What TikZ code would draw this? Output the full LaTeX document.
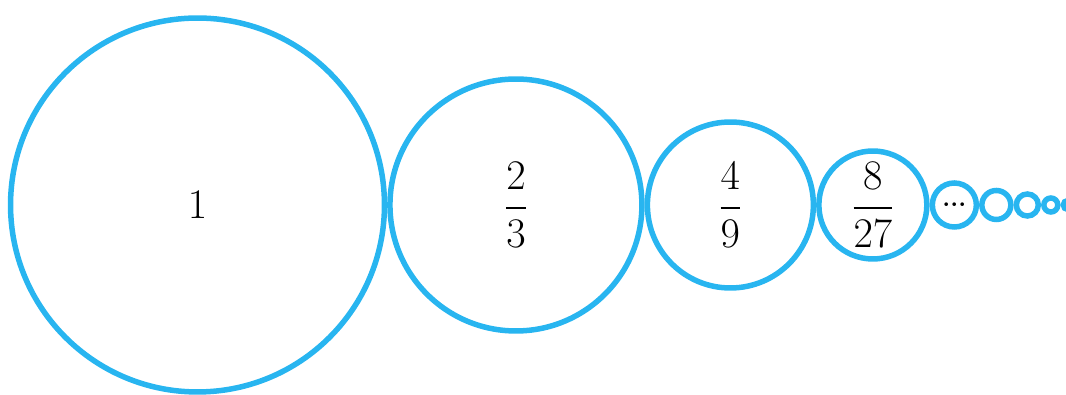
\documentclass[tikz,border=0pt]{standalone}
\usepackage{fix-cm}
\usepackage{amsmath}
\usepackage{xcolor}
\usepackage{tikz}
\usetikzlibrary{positioning}

\definecolor{ringblue}{RGB}{40,181,240}

\begin{document}
\begin{tikzpicture}[
  x=0.02cm, y=0.02cm,
  node distance=0pt,
  ring/.style={circle, draw=ringblue, line width=0.11cm, inner sep=0pt,
               font=\fontsize{24}{29}\selectfont},
  tiny/.style={circle, draw=ringblue, line width=0.11cm, inner sep=0pt},
]
\useasboundingbox (0,0) rectangle (1066,395);

% Big circles, each touching the one before
\node[ring, minimum size=7.48cm] (c1) at (197.5,190) {$1$};
\node[ring, minimum size=5.04cm, right=of c1] (c2) {$\dfrac{2}{3}$};
\node[ring, minimum size=3.32cm, right=of c2] (c3) {$\dfrac{4}{9}$};
\node[ring, minimum size=2.16cm, right=of c3] (c4) {$\dfrac{8}{27}$};

% The tail
\node[tiny, minimum size=0.88cm, right=of c4, font=\Large\bfseries] (c5) {...};
\node[tiny, minimum size=0.58cm, right=of c5] (c6) {};
\node[tiny, minimum size=0.44cm, right=of c6] (c7) {};
\node[tiny, minimum size=0.28cm, right=of c7] (c8) {};
\node[tiny, minimum size=0.18cm, right=of c8] (c9) {};

\end{tikzpicture}
\end{document}
